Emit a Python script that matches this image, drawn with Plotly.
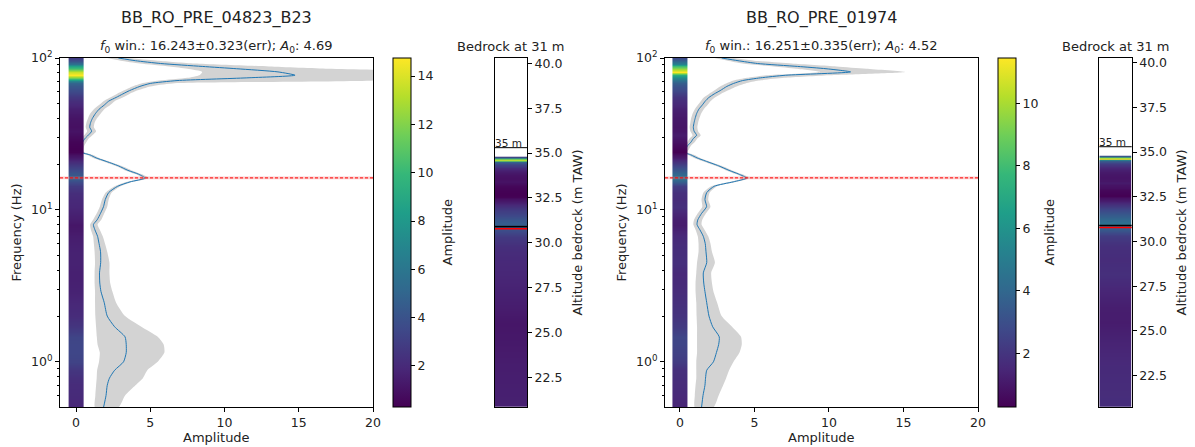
import numpy as np
import plotly.graph_objects as go

# ---------------- data ----------------
freq = [100, 96, 92, 88, 85, 81, 77, 74, 71, 68, 65, 61, 58, 55, 52, 49, 46, 43, 40, 37.5,
        35, 33, 31, 29.5, 28, 26.5, 25, 24, 23, 22, 21, 19.5, 18.2, 17.2, 16.2, 15.3, 14.3,
        13, 11.7, 10.5, 9.5, 8.6, 8.0, 7.4, 6.7, 6.0, 5.3, 4.5, 3.85, 3.3, 2.9, 2.45, 2.0,
        1.7, 1.46, 1.3, 1.15, 1.0, 0.88, 0.78, 0.7, 0.6, 0.5]

amp_mean_a = [2.85, 4.0, 5.7, 8.5, 10.8, 13.6, 14.75, 11.5, 6.8, 5.0, 4.3, 3.6, 3.15, 2.7, 2.2,
              1.9, 1.55, 1.3, 1.1, 0.98, 0.92, 1.05, 0.82, 0.6, 0.45, 0.34, 0.3, 0.35, 0.95,
              1.35, 1.95, 2.85, 3.5, 4.2, 4.65, 3.64, 2.8, 2.2, 1.97, 1.85, 1.65, 1.42, 1.17,
              1.27, 1.45, 1.55, 1.65, 1.66, 1.58, 1.6, 1.68, 1.9, 2.1, 2.6, 3.3, 3.38, 3.38,
              3.2, 2.6, 2.25, 2.1, 2.02, 1.85]
amp_lo_a = [2.1, 3.0, 4.3, 6.3, 7.5, 8.5, 8.3, 7.5, 5.6, 4.4, 3.8, 3.2, 2.75, 2.3, 1.85, 1.55,
            1.2, 0.95, 0.8, 0.7, 0.65, 0.75, 0.55, 0.35, 0.2, 0.12, 0.1, 0.12, 0.75, 1.15,
            1.75, 2.65, 3.3, 4.0, 4.45, 3.45, 2.6, 2.0, 1.75, 1.6, 1.4, 1.15, 0.95, 1.0, 1.15,
            1.2, 1.25, 1.28, 1.25, 1.25, 1.28, 1.28, 1.3, 1.35, 1.4, 1.45, 1.6, 1.55, 1.42,
            1.39, 1.35, 1.3, 1.28]
amp_hi_a = [3.5, 5.5, 8.0, 13.0, 17.0, 21.5, 21.5, 21.5, 20.0, 6.5, 5.0, 4.1, 3.6, 3.15, 2.6,
            2.3, 1.9, 1.65, 1.4, 1.25, 1.2, 1.35, 1.1, 0.85, 0.7, 0.56, 0.5, 0.55, 1.15, 1.55,
            2.15, 3.05, 3.75, 4.4, 4.9, 3.85, 3.0, 2.4, 2.2, 2.1, 1.9, 1.7, 1.45, 1.6, 1.8,
            1.95, 2.1, 2.25, 2.25, 2.3, 2.45, 2.7, 3.3, 4.4, 5.5, 5.9, 5.95, 5.5, 4.8, 4.5,
            4.0, 3.3, 2.85]

amp_mean_b = [2.8, 3.9, 5.2, 7.9, 9.8, 11.45, 7.1, 5.4, 4.2, 3.6, 3.15, 2.7, 2.3, 1.95, 1.7,
              1.5, 1.27, 1.12, 1.02, 0.95, 0.9, 0.95, 1.12, 0.9, 0.75, 0.52, 0.38, 0.28, 0.75,
              1.15, 1.7, 2.6, 3.3, 3.95, 4.48, 3.58, 2.3, 1.8, 1.68, 1.79, 1.46, 1.2, 1.15,
              1.34, 1.57, 1.7, 1.75, 1.8, 1.57, 1.6, 1.68, 1.8, 1.95, 2.2, 2.64, 2.6, 2.45,
              2.25, 1.8, 1.72, 1.68, 1.55, 1.45]
amp_lo_b = [2.3, 3.2, 4.2, 6.3, 7.8, 9.4, 5.8, 4.5, 3.6, 3.1, 2.7, 2.3, 1.95, 1.6, 1.4, 1.2,
            1.0, 0.85, 0.75, 0.7, 0.65, 0.7, 0.85, 0.65, 0.5, 0.3, 0.18, 0.12, 0.55, 0.95,
            1.5, 2.4, 3.1, 3.75, 4.28, 3.38, 2.1, 1.58, 1.45, 1.5, 1.2, 0.95, 0.9, 1.05, 1.2,
            1.25, 1.25, 1.15, 1.1, 1.05, 1.05, 1.1, 1.12, 1.15, 1.15, 1.15, 1.15, 1.1, 1.1,
            1.1, 1.05, 1.0, 1.0]
amp_hi_b = [3.6, 5.0, 7.5, 10.5, 12.5, 15.1, 10.0, 7.0, 5.3, 4.4, 3.8, 3.2, 2.75, 2.35, 2.05,
            1.85, 1.6, 1.42, 1.3, 1.22, 1.17, 1.22, 1.4, 1.17, 1.0, 0.75, 0.6, 0.5, 0.98, 1.36,
            1.9, 2.8, 3.5, 4.15, 4.7, 3.8, 2.5, 2.0, 1.9, 2.05, 1.75, 1.5, 1.45, 1.65, 1.9,
            2.05, 2.15, 2.35, 2.1, 2.15, 2.25, 2.5, 2.8, 3.5, 4.1, 4.15, 4.0, 3.6, 3.3, 3.1,
            2.9, 2.6, 2.24]

station_names = ["BB_RO_PRE_04823_B23", "BB_RO_PRE_01974"]
f0_values = [16.243, 16.251]
f0_errors = [0.323, 0.335]
a0_values = [4.69, 4.52]
ground_alt = [35.3, 35.3]          # m TAW
bedrock_alt = [30.9, 30.9]         # black line, m TAW
borehole_alt = [30.78, 30.78]      # red line, m TAW
depth_a, depth_b = 111.0, 1.166    # depth = a * f^-b (m)

# ---------------- geometry (pixels) ----------------
W, H = 1195, 447
TOP, BOT = 58, 407
panels = [
    dict(main=(60, 373), cb=393, col=(495, 527), xr=[-1.08, 20], colyr=[20.84, 40.3],
         mean=amp_mean_a, lo=amp_lo_a, hi=amp_hi_a, cblab=447, altlab=577, flab=16),
    dict(main=(665, 978), cb=997.7, col=(1099.3, 1131.7), xr=[-1.0, 20], colyr=[20.75, 40.26],
         mean=amp_mean_b, lo=amp_lo_b, hi=amp_hi_b, cblab=1049, altlab=1181, flab=621),
]


def fx(p):
    return p / W


def fy(p):
    return 1 - p / H


FONT = "DejaVu Sans"
TXT = "#222222"
TICK = 12.5
LAB = 13
fig = go.Figure()
layout = dict(width=W, height=H, margin=dict(l=0, r=0, t=0, b=0, autoexpand=False),
              paper_bgcolor="white", plot_bgcolor="white", showlegend=False,
              font=dict(family=FONT, size=TICK, color=TXT))
annotations, shapes = [], []

freq_asc = freq[::-1]
ydom = [fy(BOT), fy(TOP)]
minor_vals = [v * m for m in (0.1, 1, 10) for v in range(2, 10)]


def label(text, x, y, size=LAB, angle=0):
    return dict(text=text, x=fx(x), y=fy(y), xref="paper", yref="paper", showarrow=False,
                xanchor="center", yanchor="middle", textangle=angle, font=dict(size=size))


for i, p in enumerate(panels):
    k = 3 * i
    xm, xo, xc = f"x{k+1 if k else ''}", f"x{k+2}", f"x{k+3}"
    ym, yc = f"y{k+1 if k else ''}", f"y{k+3}"
    xmn, xon, xcn = f"xaxis{k+1 if k else ''}", f"xaxis{k+2}", f"xaxis{k+3}"
    ymn, ycn = f"yaxis{k+1 if k else ''}", f"yaxis{k+3}"
    ca = f"coloraxis{i+1 if i else ''}"

    mean, lo, hi = p["mean"], p["lo"], p["hi"]
    mean_asc = mean[::-1]

    # grey band
    fig.add_trace(go.Scatter(x=lo + hi[::-1], y=freq + freq[::-1], fill="toself",
                             fillcolor="#d3d3d3", line=dict(width=0, shape="spline", smoothing=0.6),
                             mode="lines", hoverinfo="skip", xaxis=xm, yaxis=ym))
    # mean curve
    fig.add_trace(go.Scatter(x=mean, y=freq, mode="lines",
                             line=dict(color="#1f77b4", width=1, shape="spline", smoothing=0.6),
                             xaxis=xm, yaxis=ym))
    # amplitude strip (overlay axis so it sits above the curve)
    fig.add_trace(go.Heatmap(x=[-0.25, 0.25], y=freq_asc, z=[[a, a] for a in mean_asc],
                             coloraxis=ca, zsmooth="best", xaxis=xo, yaxis=ym, hoverinfo="skip"))
    # bedrock column
    alt = [ground_alt[i] - depth_a * f ** (-depth_b) for f in freq_asc]
    fig.add_trace(go.Heatmap(x=[0.25, 0.75], y=alt, z=[[a, a] for a in mean_asc],
                             coloraxis=ca, zsmooth="best", xaxis=xc, yaxis=yc, hoverinfo="skip"))

    axline = dict(showline=True, linecolor="black", linewidth=1, mirror=True,
                  ticks="outside", ticklen=4, tickcolor="black", showgrid=False, zeroline=False,
                  automargin=False)
    layout[xmn] = dict(domain=[fx(p["main"][0]), fx(p["main"][1])], range=p["xr"], anchor=ym,
                       tickvals=[0, 5, 10, 15, 20], **axline)
    layout[xon] = dict(overlaying=xm, range=p["xr"], anchor=ym, visible=False)
    layout[ymn] = dict(domain=ydom, type="log", range=[np.log10(0.504), 2], anchor=xm,
                       tickvals=[1, 10, 100],
                       ticktext=["10<sup>0</sup>", "10<sup>1</sup>", "10<sup>2</sup>"],
                       minor=dict(tickvals=minor_vals, ticks="outside", ticklen=2.5,
                                  tickcolor="black"),
                       **axline)
    layout[xcn] = dict(domain=[fx(p["col"][0]), fx(p["col"][1])], range=[0, 1], anchor=yc,
                       showline=True, linecolor="black", linewidth=1, mirror=True,
                       showticklabels=False, ticks="", showgrid=False, zeroline=False)
    layout[ycn] = dict(domain=ydom, range=p["colyr"], anchor=xc, side="right",
                       tick0=0, dtick=2.5, tickformat=".1f", **axline)

    layout[ca] = dict(colorscale="Viridis", cmin=min(mean), cmax=max(mean),
                      colorbar=dict(x=fx(p["cb"]), xanchor="left", xpad=0, ypad=0,
                                    thickness=18, len=(BOT - TOP) / H, lenmode="fraction",
                                    y=fy((TOP + BOT) / 2), yanchor="middle",
                                    outlinewidth=1, outlinecolor="black", ticks="outside",
                                    ticklen=4, tickcolor="black", dtick=2,
                                    tickfont=dict(size=TICK, family=FONT, color=TXT)))

    # f0 marker
    shapes.append(dict(type="rect", xref=f"{xm} domain", yref=ym, x0=0, x1=1,
                       y0=f0_values[i] - f0_errors[i], y1=f0_values[i] + f0_errors[i],
                       fillcolor="rgba(240,110,110,0.35)", line=dict(width=0), layer="above"))
    shapes.append(dict(type="line", xref=f"{xm} domain", yref=ym, x0=0, x1=1,
                       y0=f0_values[i], y1=f0_values[i],
                       line=dict(color="red", width=1, dash="3px,2px"), layer="above"))
    # column lines
    shapes.append(dict(type="line", xref=f"{xc} domain", yref=yc, x0=0, x1=1,
                       y0=ground_alt[i], y1=ground_alt[i], line=dict(color="black", width=1),
                       layer="above"))
    shapes.append(dict(type="line", xref=f"{xc} domain", yref=yc, x0=0, x1=1,
                       y0=bedrock_alt[i], y1=bedrock_alt[i], line=dict(color="black", width=1.5),
                       layer="above"))
    shapes.append(dict(type="line", xref=f"{xc} domain", yref=yc, x0=0, x1=1,
                       y0=borehole_alt[i], y1=borehole_alt[i], line=dict(color="red", width=1.5),
                       layer="above"))

    cx = (p["main"][0] + p["main"][1]) / 2
    mid = (TOP + BOT) / 2
    annotations += [
        label(station_names[i], cx, 18, size=16),
        label(f"<i>f</i><sub>0</sub> win.: {f0_values[i]:.3f}±{f0_errors[i]:.3f}(err); "
              f"<i>A</i><sub>0</sub>: {a0_values[i]:.2f}", cx, 46),
        label("Amplitude", cx, 437),
        label("Frequency (Hz)", p["flab"], mid, angle=-90),
        label("Amplitude", p["cblab"], mid, angle=-90),
        label("Altitude bedrock (m TAW)", p["altlab"], mid, angle=-90),
        label(f"Bedrock at {bedrock_alt[i]:.0f} m", (p["col"][0] + p["col"][1]) / 2, 46),
        dict(text=f"{ground_alt[i]:.0f} m", x=0, xref=f"{xc} domain", xanchor="left",
             y=ground_alt[i], yref=yc, yanchor="bottom", showarrow=False,
             font=dict(size=10.5), xshift=-2, yshift=-3),
    ]

layout["annotations"] = annotations
layout["shapes"] = shapes
fig.update_layout(**layout)
fig.write_html("out.html", config={"displayModeBar": False},
               post_script="document.body.style.margin='0';")
